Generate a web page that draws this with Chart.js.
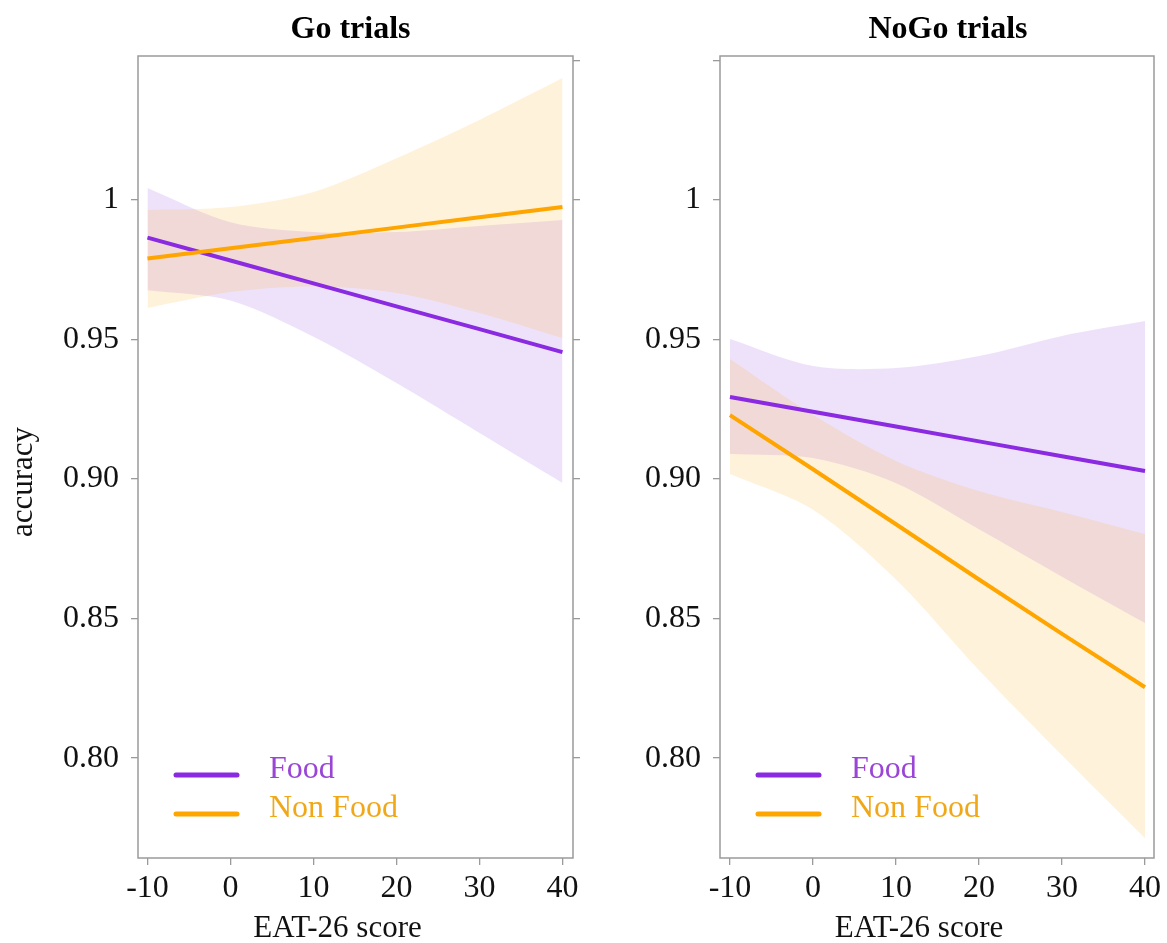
<!DOCTYPE html>
<html>
<head>
<meta charset="utf-8">
<script src="https://cdn.jsdelivr.net/npm/chart.js@4"></script>
<style>
  body { margin: 0; background: #fff; }
  #wrap { position: relative; width: 1167px; height: 943px; }
  #goChart { position: absolute; left: 0; top: 0; }
  #nogoChart { position: absolute; left: 583px; top: 0; }
</style>
</head>
<body>
<div id="wrap">
  <canvas id="goChart" width="583" height="943"></canvas>
  <canvas id="nogoChart" width="584" height="943"></canvas>
</div>
<script>
var eatScore = [-10, 0, 10, 20, 30, 40];
var xTicks = [-10, 0, 10, 20, 30, 40];
var yTicks = [0.80, 0.85, 0.90, 0.95, 1.00];
var yTicksTop = [0.80, 0.85, 0.90, 0.95, 1.00, 1.05];
var seriesNames = ['Food', 'Non Food'];

// Go trials
var goFood      = [0.9865, 0.9783, 0.9701, 0.9619, 0.9537, 0.9455];
var goFoodLow   = [0.9677, 0.9640, 0.9510, 0.9344, 0.9165, 0.8986];
var goFoodHigh  = [1.0043, 0.9920, 0.9885, 0.9885, 0.9907, 0.9928];
var goNon       = [0.9790, 0.9827, 0.9864, 0.9901, 0.9938, 0.9975];
var goNonLow    = [0.9613, 0.9670, 0.9690, 0.9667, 0.9595, 0.9505];
var goNonHigh   = [0.9964, 0.9975, 1.0029, 1.0150, 1.0287, 1.0437];

// NoGo trials
var nogoFood     = [0.9294, 0.9241, 0.9188, 0.9135, 0.9082, 0.9029];
var nogoFoodLow  = [0.9090, 0.9075, 0.8985, 0.8820, 0.8650, 0.8484];
var nogoFoodHigh = [0.9502, 0.9405, 0.9398, 0.9441, 0.9513, 0.9566];
var nogoNon      = [0.9229, 0.9035, 0.8838, 0.8640, 0.8445, 0.8254];
var nogoNonLow   = [0.9018, 0.8890, 0.8640, 0.8315, 0.8010, 0.7713];
var nogoNonHigh  = [0.9430, 0.9230, 0.9065, 0.8957, 0.8882, 0.8803];

var purple = '#8a2be2';
var orange = '#ffa500';
var purpleBand = 'rgba(140, 60, 228, 0.15)';
var orangeBand = 'rgba(255, 160, 0, 0.14)';
var legendText = ['#9a45d6', '#f0a818'];
var axisGray = '#9a9a9a';
var serif = "'Liberation Serif', 'Times New Roman', serif";

Chart.defaults.font.family = serif;
Chart.defaults.color = '#111';

function pts(values) {
  return eatScore.map(function (x, i) { return { x: x, y: values[i] }; });
}

function buildSets(food, foodLow, foodHigh, non, nonLow, nonHigh) {
  var none = 'rgba(0,0,0,0)';
  return [
    { label: seriesNames[0], data: pts(food), borderColor: purple, borderWidth: 4, pointRadius: 0, fill: false, order: 1 },
    { label: seriesNames[1], data: pts(non), borderColor: orange, borderWidth: 4, pointRadius: 0, fill: false, order: 0 },
    { label: 'food ci', data: pts(foodHigh), borderColor: none, borderWidth: 0, pointRadius: 0, fill: '+1', backgroundColor: purpleBand, tension: 0.3, order: 3 },
    { label: 'food ci low', data: pts(foodLow), borderColor: none, borderWidth: 0, pointRadius: 0, fill: false, tension: 0.3, order: 3 },
    { label: 'non ci', data: pts(nonHigh), borderColor: none, borderWidth: 0, pointRadius: 0, fill: '+1', backgroundColor: orangeBand, tension: 0.3, order: 2 },
    { label: 'non ci low', data: pts(nonLow), borderColor: none, borderWidth: 0, pointRadius: 0, fill: false, tension: 0.3, order: 2 }
  ];
}

// box round the plot area, titles and the legend inside it
var panelDecor = {
  id: 'panelDecor',
  afterDraw: function (chart, args, opts) {
    var ctx = chart.ctx;
    var a = chart.chartArea;
    var mid = (a.left + a.right) / 2;
    ctx.save();
    ctx.strokeStyle = axisGray;
    ctx.lineWidth = 1.5;
    ctx.strokeRect(a.left, a.top, a.right - a.left, a.bottom - a.top);

    ctx.textAlign = 'center';
    ctx.textBaseline = 'alphabetic';
    ctx.fillStyle = '#000';
    ctx.font = 'bold 32px ' + serif;
    ctx.fillText(opts.title, mid + opts.titleShift, 38);

    ctx.fillStyle = '#111';
    ctx.font = '31px ' + serif;
    ctx.fillText('EAT-26 score', mid - 18, chart.height - 6);
    if (opts.yTitle) {
      ctx.save();
      ctx.translate(32, (a.top + a.bottom) / 2 + 25);
      ctx.rotate(-Math.PI / 2);
      ctx.fillText('accuracy', 0, 0);
      ctx.restore();
    }

    var rows = [-83, -44];
    ctx.font = '32px ' + serif;
    ctx.textAlign = 'left';
    ctx.lineCap = 'round';
    for (var i = 0; i < 2; i++) {
      var ds = chart.data.datasets[i];
      ctx.strokeStyle = ds.borderColor;
      ctx.lineWidth = 5;
      ctx.beginPath();
      ctx.moveTo(a.left + 38, a.bottom + rows[i]);
      ctx.lineTo(a.left + 99, a.bottom + rows[i]);
      ctx.stroke();
      ctx.fillStyle = legendText[i];
      ctx.fillText(ds.label, a.left + 131, a.bottom + rows[i] + 3);
    }
    ctx.restore();
  }
};

function tickGrid() {
  return { drawOnChartArea: false, drawTicks: true, tickLength: 7, color: axisGray, lineWidth: 1.3 };
}

function makeChart(canvas, title, sets, opts) {
  var scales = {
    x: {
      type: 'linear', min: opts.xMin, max: opts.xMax,
      afterBuildTicks: function (s) { s.ticks = xTicks.map(function (v) { return { value: v }; }); },
      afterFit: function (s) { s.height = 85; },
      grid: tickGrid(), border: { display: false },
      ticks: { font: { size: 32 }, color: '#111', padding: 4 }
    },
    y: {
      min: 0.7642, max: 1.0516,
      afterBuildTicks: function (s) { s.ticks = opts.leftTicks.map(function (v) { return { value: v }; }); },
      afterFit: function (s) { s.width = opts.leftWidth; },
      grid: tickGrid(), border: { display: false },
      ticks: {
        font: { size: 32 }, color: '#111', padding: 12,
        callback: function (v) { return v > 1.01 ? '' : (v === 1 ? '1' : v.toFixed(2)); }
      }
    }
  };
  if (opts.rightTicks) {
    scales.y2 = {
      position: 'right', min: 0.7642, max: 1.0516,
      afterBuildTicks: function (s) { s.ticks = opts.rightTicks.map(function (v) { return { value: v }; }); },
      afterFit: function (s) { s.width = opts.rightWidth; },
      grid: tickGrid(), border: { display: false },
      ticks: { callback: function () { return ''; } }
    };
  }
  return new Chart(canvas, {
    type: 'line',
    data: { datasets: sets },
    options: {
      responsive: false,
      animation: false,
      layout: { padding: { top: 56, right: opts.rightTicks ? 0 : opts.rightWidth } },
      plugins: {
        legend: { display: false },
        tooltip: { enabled: false },
        title: { display: false },
        panelDecor: { yTitle: opts.yTitle, title: title, titleShift: opts.titleShift }
      },
      scales: scales
    },
    plugins: [panelDecor]
  });
}

var goChart = makeChart(document.getElementById('goChart'), 'Go trials',
  buildSets(goFood, goFoodLow, goFoodHigh, goNon, goNonLow, goNonHigh),
  { xMin: -11.14, xMax: 41.27, leftWidth: 138, rightWidth: 10, leftTicks: yTicks, rightTicks: yTicksTop, yTitle: true, titleShift: -5 });

var nogoChart = makeChart(document.getElementById('nogoChart'), 'NoGo trials',
  buildSets(nogoFood, nogoFoodLow, nogoFoodHigh, nogoNon, nogoNonLow, nogoNonHigh),
  { xMin: -11.2, xMax: 41.08, leftWidth: 137, rightWidth: 13, leftTicks: yTicksTop, rightTicks: null, yTitle: false, titleShift: 11 });
</script>
</body>
</html>
